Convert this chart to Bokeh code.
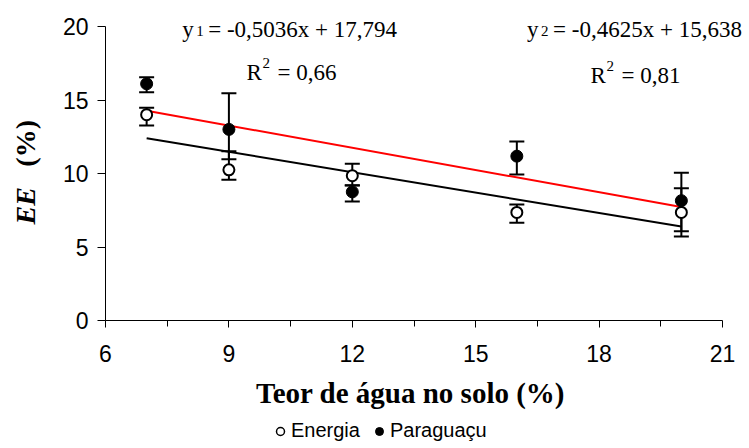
import numpy as np
from bokeh.plotting import figure
from bokeh.layouts import column, row
from bokeh.models import (Range1d, FixedTicker, Label, Legend, LegendItem,
                          Whisker, TeeHead, ColumnDataSource)
from bokeh.embed import file_html
from bokeh.resources import INLINE

# Soil water content (%) at each sampling level
teor = [7, 9, 12, 16, 20]

# Energia: means and error-bar limits (EE, %)
energia = [14.0, 10.25, 9.85, 7.35, 7.35]
energia_upper = [14.47, 11.52, 10.66, 7.89, 9.0]
energia_lower = [13.27, 9.57, 9.18, 6.65, 5.71]

# Paraguaçu: means and error-bar limits (EE, %)
paraguacu = [16.1, 13.0, 8.75, 11.18, 8.15]
paraguacu_upper = [16.55, 15.46, 9.2, 12.18, 10.05]
paraguacu_lower = [15.53, 10.97, 8.1, 9.93, 6.07]

# Linear fits: y1 (Paraguaçu, red) and y2 (Energia, black)
slopes = [-0.5036, -0.4625]
intercepts = [17.794, 15.638]
r2 = [0.66, 0.81]

x_ticks = [6, 9, 12, 15, 18, 21]
x_minor = [7.5, 10.5, 13.5, 16.5, 19.5]
y_ticks = [0, 5, 10, 15, 20]

SANS = "Liberation Sans"
SERIF = "Liberation Serif"

# page geometry (pixels)
STRIP_W = 55          # column holding the y-axis title
MAIN_W = 749 - STRIP_W
TOP_H = 376           # height of the plotting row
BOT_H = 448 - TOP_H   # x-axis title and legend underneath
AXIS_L = 50           # room for the y ticks inside the main figure
FRAME_BOTTOM = 320    # pixel row of y = 0
PX_X = 617 / 15.0     # pixels per x unit
PX_Y = 294 / 20.0     # pixels per y unit
LIFT = 8              # raises baseline-anchored labels onto their line

frame_w = MAIN_W - AXIS_L
x_range = Range1d(x_ticks[0], x_ticks[0] + frame_w / PX_X)
y_range = Range1d(y_ticks[0], FRAME_BOTTOM / PX_Y)


def bare(fig):
    fig.outline_line_color = None
    fig.xgrid.visible = False
    fig.ygrid.visible = False
    return fig


p = bare(figure(width=MAIN_W, height=TOP_H, output_backend="svg",
                toolbar_location=None, x_range=x_range, y_range=y_range,
                min_border_left=AXIS_L, min_border_right=0,
                min_border_top=0, min_border_bottom=TOP_H - FRAME_BOTTOM))

# x axis
xa = p.xaxis[0]
xa.bounds = (x_ticks[0], x_ticks[-1])
xa.ticker = FixedTicker(ticks=x_ticks, minor_ticks=x_minor)
xa.axis_line_color = "black"
xa.major_tick_line_color = "black"
xa.minor_tick_line_color = "black"
xa.major_tick_in = 0
xa.major_tick_out = 7
xa.minor_tick_in = 0
xa.minor_tick_out = 6
xa.major_label_standoff = 17
xa.major_label_text_font = SANS
xa.major_label_text_font_size = "23px"
xa.major_label_text_color = "black"

# y axis
ya = p.yaxis[0]
ya.bounds = (y_ticks[0], y_ticks[-1])
ya.ticker = FixedTicker(ticks=y_ticks, minor_ticks=[])
ya.axis_line_color = "black"
ya.major_tick_line_color = "black"
ya.major_tick_in = 0
ya.major_tick_out = 8
ya.minor_tick_line_color = None
ya.major_label_standoff = 9
ya.major_label_text_font = SANS
ya.major_label_text_font_size = "23px"
ya.major_label_text_color = "black"

# regression lines
x_fit = [min(teor), max(teor)]
fit_colors = ["#ff0000", "black"]
for m, b, c in zip(slopes, intercepts, fit_colors):
    p.line(x_fit, [m * x + b for x in x_fit], line_color=c, line_width=2)

# error bars
for ys, up, lo in [(paraguacu, paraguacu_upper, paraguacu_lower),
                   (energia, energia_upper, energia_lower)]:
    src = ColumnDataSource(dict(x=teor, y=ys, upper=up, lower=lo))
    p.add_layout(Whisker(source=src, base="x", upper="upper", lower="lower",
                         line_color="black", line_width=2, level="underlay",
                         upper_head=TeeHead(size=15, line_color="black", line_width=2),
                         lower_head=TeeHead(size=15, line_color="black", line_width=2)))

# means
p.scatter(teor, paraguacu, size=12, fill_color="black", line_color="black")
p.scatter(teor, energia, size=11, fill_color="white", line_color="black",
          line_width=2)


# equations and R²
def fmt(v, nd):
    return f"{v:.{nd}f}".replace(".", ",")


def label(x, y, text, size, dx=0, dy=0):
    p.add_layout(Label(x=x, y=y, x_offset=dx, y_offset=dy + LIFT, text=text,
                       text_font=SERIF, text_font_size=size,
                       text_color="black", text_baseline="alphabetic"))


eq_pos = [(7.865, 19.25, 9.43, 16.30), (16.25, 19.25, 17.79, 16.10)]
for i, (ex, ey, rx, ry) in enumerate(eq_pos):
    label(ex, ey, "y", "23px")
    label(ex, ey, str(i + 1), "15px", dx=14, dy=-1)
    label(ex, ey, f"= {fmt(slopes[i], 4)}x + {fmt(intercepts[i], 3)}",
          "23px", dx=26)
    label(rx, ry, "R", "23px")
    label(rx, ry, "2", "15px", dx=16, dy=10)
    label(rx, ry, f"= {fmt(r2[i], 2)}", "23px", dx=31)

# y-axis title: italic "EE" followed by "(%)"
strip = bare(figure(width=STRIP_W, height=TOP_H, output_backend="svg",
                    toolbar_location=None, x_range=Range1d(0, STRIP_W),
                    y_range=y_range, x_axis_type=None, y_axis_type=None,
                    min_border_left=0, min_border_right=0, min_border_top=0,
                    min_border_bottom=TOP_H - FRAME_BOTTOM))
for text, yc, style in [("EE", 7.8, "bold italic"), ("(%)", 12.05, "bold")]:
    strip.add_layout(Label(x=25, y=yc, text=text, angle=90, angle_units="deg",
                           text_font=SERIF, text_font_style=style,
                           text_font_size="28px", text_align="center",
                           text_baseline="middle", text_color="black"))

# x-axis title and legend under the plot
bot = bare(figure(width=749, height=BOT_H, output_backend="svg",
                  toolbar_location=None, x_range=Range1d(0, 749),
                  y_range=Range1d(0, BOT_H), x_axis_type=None, y_axis_type=None,
                  min_border_left=0, min_border_right=0, min_border_top=0,
                  min_border_bottom=0))
bot.add_layout(Label(x=410, y=48, y_offset=LIFT, text="Teor de água no solo (%)",
                     text_font=SERIF, text_font_style="bold",
                     text_font_size="29px", text_align="center",
                     text_baseline="alphabetic", text_color="black"))

# legend keys: renderers whose single point is NaN, so only the key shows
off = [np.nan]
leg_e = bot.scatter(off, off, size=10, fill_color="white", line_color="black",
                    line_width=1.5)
leg_p = bot.scatter(off, off, size=10, fill_color="black", line_color="black")
legend = Legend(items=[LegendItem(label="Energia", renderers=[leg_e]),
                       LegendItem(label="Paraguaçu", renderers=[leg_p])],
                location=(270, 6), orientation="horizontal",
                border_line_color=None, background_fill_alpha=0,
                label_text_font=SANS, label_text_font_size="20px",
                label_text_color="black",
                glyph_width=20, glyph_height=20, label_height=20,
                label_standoff=1, spacing=9, padding=0, margin=0)
bot.add_layout(legend)

page = column(row(strip, p), bot)
open("out.html", "w").write(file_html(page, INLINE))
